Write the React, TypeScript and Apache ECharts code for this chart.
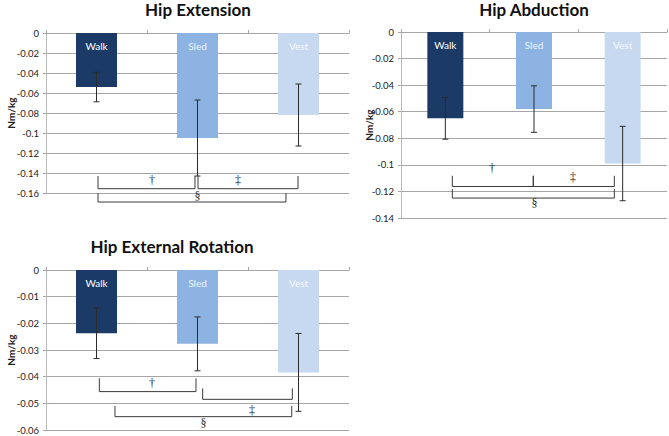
import React, { useEffect, useRef } from 'react';
import * as echarts from 'echarts';

const categories = ['Walk', 'Sled', 'Vest'];
const barColors = ['#1b3a66', '#8db3e2', '#c6d9f1'];
const labelColors = ['#ffffff', '#eef3fa', '#f6f9fd'];

const extensionMean = [-0.054, -0.105, -0.082];
const extensionSd = [0.0148, 0.038, 0.031];
const abductionMean = [-0.065, -0.058, -0.099];
const abductionSd = [0.0157, 0.0175, 0.028];
const rotationMean = [-0.0237, -0.0277, -0.0384];
const rotationSd = [0.0095, 0.0101, 0.0146];

// significance brackets: [x1, x2, yEnd, yBase] in category-index / value units
const extensionBrackets = [
  [0.015, 0.975, -0.143, -0.1557],
  [1.005, 1.995, -0.143, -0.1557],
  [0.015, 1.876, -0.16, -0.169],
];
const extensionMarkPos = [[0.55, -0.147], [1.4, -0.147], [1.0, -0.1634]];
const extensionMarkText = ['†', '‡', '§'];

const abductionBrackets = [
  [0.079, 0.992, -0.1082, -0.1163],
  [0.992, 1.906, -0.1082, -0.1163],
  [0.079, 1.906, -0.1182, -0.125],
];
const abductionMarkPos = [[0.526, -0.1022], [1.44, -0.109], [1.005, -0.1285]];
const abductionMarkText = ['†', '‡', '§'];

const rotationBrackets = [
  [0.028, 0.985, -0.0406, -0.0456],
  [1.051, 1.939, -0.0444, -0.0485],
  [0.183, 1.933, -0.051, -0.055],
];
const rotationMarkPos = [[0.55, -0.0423], [1.54, -0.0525], [1.06, -0.0573]];
const rotationMarkText = ['†', '‡', '§'];

const titles = ['Hip Extension', 'Hip Abduction', 'Hip External Rotation'];
const axisName = 'Nm/kg';

const FONT = 'Lato, "Open Sans", sans-serif';
const GRID_GRAY = '#a6a6a6';
const INK = '#2a2a2a';

function fmt(v: number) {
  if (Math.abs(v) < 1e-9) return '0';
  return String(+v.toFixed(3));
}

function buildPanel(idx: number, mean: number[], sd: number[], brackets: number[][], markPos: number[][], markText: string[], barWidth: number) {
  const catAxis = idx * 2;
  const valAxis = idx * 2 + 1;
  const series: any[] = [
    {
      type: 'bar',
      xAxisIndex: catAxis,
      yAxisIndex: idx,
      barWidth,
      z: 2,
      data: mean.map((v, i) => ({
        value: v,
        itemStyle: { color: barColors[i] },
        label: { color: labelColors[i] },
      })),
      label: {
        show: true,
        position: 'insideTop',
        distance: 8,
        formatter: '{b}',
        fontSize: 10,
        fontFamily: FONT,
      },
      silent: true,
    },
    {
      type: 'custom',
      xAxisIndex: valAxis,
      yAxisIndex: idx,
      clip: false,
      silent: true,
      z: 5,
      itemStyle: { color: '#2b2b2b' },
      data: mean.map((v, i) => [i, v, sd[i]]),
      renderItem: (params: any, api: any) => {
        const x = api.value(0);
        const m = api.value(1);
        const s = api.value(2);
        const top = api.coord([x, m + s]);
        const bot = api.coord([x, m - s]);
        const cap = 3;
        const st = { stroke: '#2b2b2b', lineWidth: 1 };
        return {
          type: 'group',
          children: [
            { type: 'line', shape: { x1: top[0], y1: top[1], x2: bot[0], y2: bot[1] }, style: st },
            { type: 'line', shape: { x1: top[0] - cap, y1: top[1], x2: top[0] + cap, y2: top[1] }, style: st },
            { type: 'line', shape: { x1: bot[0] - cap, y1: bot[1], x2: bot[0] + cap, y2: bot[1] }, style: st },
          ],
        };
      },
    },
    {
      type: 'custom',
      xAxisIndex: valAxis,
      yAxisIndex: idx,
      clip: false,
      silent: true,
      z: 5,
      itemStyle: { color: '#3a3a3a' },
      data: brackets,
      renderItem: (params: any, api: any) => {
        const a = api.coord([api.value(0), api.value(2)]);
        const b = api.coord([api.value(0), api.value(3)]);
        const c = api.coord([api.value(1), api.value(3)]);
        const d = api.coord([api.value(1), api.value(2)]);
        return {
          type: 'polyline',
          shape: { points: [a, b, c, d] },
          style: { stroke: '#3a3a3a', lineWidth: 1, fill: 'none' },
        };
      },
    },
    {
      type: 'custom',
      xAxisIndex: valAxis,
      yAxisIndex: idx,
      clip: false,
      silent: true,
      z: 5,
      itemStyle: { color: INK },
      data: markPos,
      renderItem: (params: any, api: any) => {
        const p = api.coord([api.value(0), api.value(1)]);
        return {
          type: 'text',
          x: p[0],
          y: p[1],
          style: {
            text: markText[params.dataIndex],
            fill: INK,
            font: '12px "Liberation Serif", "DejaVu Serif", serif',
            align: 'center',
            verticalAlign: 'middle',
          },
        };
      },
    },
  ];
  return series;
}

function yAxisFor(gridIndex: number, min: number, interval: number, nameGap: number) {
  return {
    type: 'value',
    gridIndex,
    min,
    max: 0,
    interval,
    name: axisName,
    nameLocation: 'middle',
    nameRotate: 90,
    nameGap,
    nameMoveOverlap: false,
    nameTextStyle: { fontSize: 10, fontWeight: 'bold', fontFamily: FONT, color: '#222' },
    axisLine: { show: true, onZero: false, lineStyle: { color: '#b8b8b8' } },
    axisTick: { show: true, length: 3, lineStyle: { color: GRID_GRAY } },
    axisLabel: { fontSize: 9.5, fontFamily: FONT, color: '#222', margin: 7, formatter: fmt },
    splitLine: { show: true, lineStyle: { color: GRID_GRAY, width: 1 } },
  };
}

function catAxisFor(gridIndex: number) {
  return {
    type: 'category',
    gridIndex,
    data: categories,
    position: 'top',
    axisLine: { show: true, lineStyle: { color: GRID_GRAY } },
    axisTick: { show: true, length: 3, lineStyle: { color: GRID_GRAY } },
    axisLabel: { show: false },
    splitLine: { show: false },
  };
}

function valXAxisFor(gridIndex: number) {
  return { type: 'value', gridIndex, min: -0.5, max: 2.5, show: false };
}

export default function App() {
  const ref = useRef<HTMLDivElement>(null);
  useEffect(() => {
    if (!ref.current) return;
    const chart = echarts.init(ref.current, null, { renderer: 'svg' });
    const titleStyle = { fontSize: 17, fontWeight: 'bold', fontFamily: FONT, color: '#111' };
    chart.setOption({
      animation: false,
      backgroundColor: '#ffffff',
      title: [
        { text: titles[0], left: 198, top: 1, padding: 0, textAlign: 'center', textStyle: titleStyle },
        { text: titles[1], left: 534, top: 1, padding: 0, textAlign: 'center', textStyle: titleStyle },
        { text: titles[2], left: 172, top: 238, padding: 0, textAlign: 'center', textStyle: titleStyle },
      ],
      grid: [
        { left: 46, top: 33, width: 303, height: 160 },
        { left: 401, top: 32, width: 266, height: 186 },
        { left: 46, top: 270, width: 303, height: 160 },
      ],
      xAxis: [catAxisFor(0), valXAxisFor(0), catAxisFor(1), valXAxisFor(1), catAxisFor(2), valXAxisFor(2)],
      yAxis: [yAxisFor(0, -0.16, 0.02, 30), yAxisFor(1, -0.14, 0.02, 27), yAxisFor(2, -0.06, 0.01, 30)],
      series: [
        ...buildPanel(0, extensionMean, extensionSd, extensionBrackets, extensionMarkPos, extensionMarkText, 41),
        ...buildPanel(1, abductionMean, abductionSd, abductionBrackets, abductionMarkPos, abductionMarkText, 36),
        ...buildPanel(2, rotationMean, rotationSd, rotationBrackets, rotationMarkPos, rotationMarkText, 41),
      ],
    });
    return () => chart.dispose();
  }, []);
  return <div ref={ref} style={{ position: 'absolute', left: 0, top: 0, width: 669, height: 436 }} />;
}
